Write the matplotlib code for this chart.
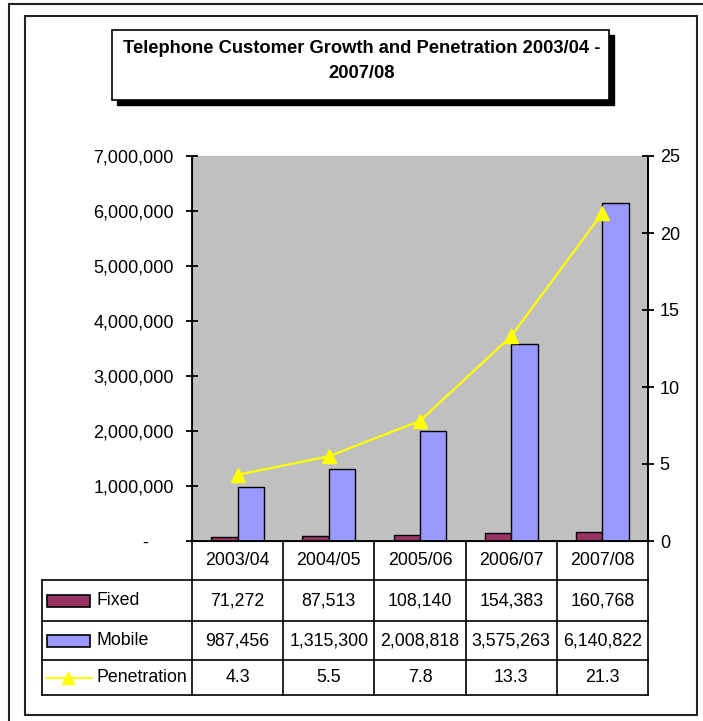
import matplotlib
matplotlib.use('Agg')
import matplotlib.pyplot as plt
import numpy as np
from matplotlib.patches import Rectangle
from matplotlib.ticker import FuncFormatter, MultipleLocator

plt.rcParams['font.family'] = ['Liberation Sans', 'DejaVu Sans']

years = ['2003/04', '2004/05', '2005/06', '2006/07', '2007/08']
fixed = [71272, 87513, 108140, 154383, 160768]
mobile = [987456, 1315300, 2008818, 3575263, 6140822]
penetration = [4.3, 5.5, 7.8, 13.3, 21.3]

title = 'Telephone Customer Growth and Penetration 2003/04 -\n2007/08'
c_fixed = '#993366'
c_mobile = '#9999FF'
c_pen = '#FFFF00'
c_back = '#C0C0C0'

W, H = 703, 721
fig = plt.figure(figsize=(W / 100, H / 100), dpi=100)


def box(x0, y0, x1, y1):
    # pixel box (top-left origin) -> figure fraction rect
    return [x0 / W, 1 - y1 / H, (x1 - x0) / W, (y1 - y0) / H]


# frames round the whole picture
fig.patches.append(Rectangle((9 / W, -0.1), 1.2, 1 - 4 / H + 0.1, transform=fig.transFigure,
                             fill=False, ec='#222222', lw=1.5))
fig.patches.append(Rectangle((25 / W, 1 - 715 / H), (697 - 25) / W, (715 - 16) / H,
                             transform=fig.transFigure, fill=False, ec='#222222', lw=1.5))

# title box with shadow
fig.patches.append(Rectangle((117 / W, 1 - 105 / H), (609 - 112) / W, (100 - 30) / H,
                             transform=fig.transFigure, fc='black', ec='black'))
fig.patches.append(Rectangle((112 / W, 1 - 100 / H), (609 - 112) / W, (100 - 30) / H,
                             transform=fig.transFigure, fc='white', ec='black', lw=1.2))
fig.text(362 / W, 1 - 61 / H, title, ha='center', va='center', fontsize=13.2,
         fontweight='bold', linespacing=1.65)

ax = fig.add_axes(box(192, 156, 648, 541))
ax.set_facecolor(c_back)
x = np.arange(len(years))
bw = 0.29
ax.bar(x - bw / 2, fixed, bw, color=c_fixed, edgecolor='black', lw=1, zorder=2)
ax.bar(x + bw / 2, mobile, bw, color=c_mobile, edgecolor='black', lw=1, zorder=2)
ax.set_xlim(-0.5, len(years) - 0.5)
ax.set_ylim(0, 7000000)
ax.yaxis.set_major_locator(MultipleLocator(1000000))
ax.yaxis.set_major_formatter(FuncFormatter(lambda v, p: f'{int(v):,}' if v > 0 else '-     '))
ax.set_xticks([])
ax.spines['top'].set_visible(False)
for s in ('left', 'right', 'bottom'):
    ax.spines[s].set_linewidth(1.3)
ax.tick_params(axis='y', direction='inout', length=9, width=1.3, pad=8.5, labelsize=13)

ax2 = ax.twinx()
ax2.plot(x, penetration, color=c_pen, lw=1.6, marker='^', ms=10, mec=c_pen, mfc=c_pen, zorder=3)
ax2.set_ylim(0, 25)
ax2.yaxis.set_major_locator(MultipleLocator(5))
ax2.spines['top'].set_visible(False)
ax2.spines['right'].set_linewidth(1.3)
ax2.tick_params(axis='y', direction='inout', length=9, width=1.3, pad=4, labelsize=13)

# data table under the plot, laid out in pixels
tab = fig.add_axes(box(42, 541, 648, 696))
tab.set_xlim(42, 648)
tab.set_ylim(696, 541)
tab.axis('off')
col_w = (648 - 192) / len(years)
rows = [541, 580, 621, 660, 695]
kw = dict(color='black', lw=1.2, clip_on=False)
for r in rows[1:]:
    tab.plot([42, 648], [r, r], **kw)
tab.plot([42, 42], [rows[1], rows[4]], **kw)
for i in range(len(years) + 1):
    tab.plot([192 + i * col_w] * 2, [rows[0], rows[4]], **kw)

fs = 12.8
cells = [years,
         [f'{v:,}' for v in fixed],
         [f'{v:,}' for v in mobile],
         [f'{v:.1f}' for v in penetration]]
for r, vals in enumerate(cells):
    yc = (rows[r] + rows[r + 1]) / 2
    for i, t in enumerate(vals):
        tab.text(192 + (i + 0.5) * col_w, yc, t, ha='center', va='center', fontsize=fs)

names = ['Fixed', 'Mobile', 'Penetration']
for r, (name, c) in enumerate(zip(names, [c_fixed, c_mobile, c_pen])):
    yc = (rows[r + 1] + rows[r + 2]) / 2
    if name == 'Penetration':
        tab.plot([47, 92], [yc, yc], color=c, lw=1.4)
        tab.plot([68], [yc], marker='^', ms=9, color=c)
    else:
        tab.add_patch(Rectangle((47, yc - 6), 43, 12, fc=c, ec='black', lw=1.2))
    tab.text(96, yc, name, ha='left', va='center', fontsize=fs)

fig.savefig('out.png', dpi=100)
